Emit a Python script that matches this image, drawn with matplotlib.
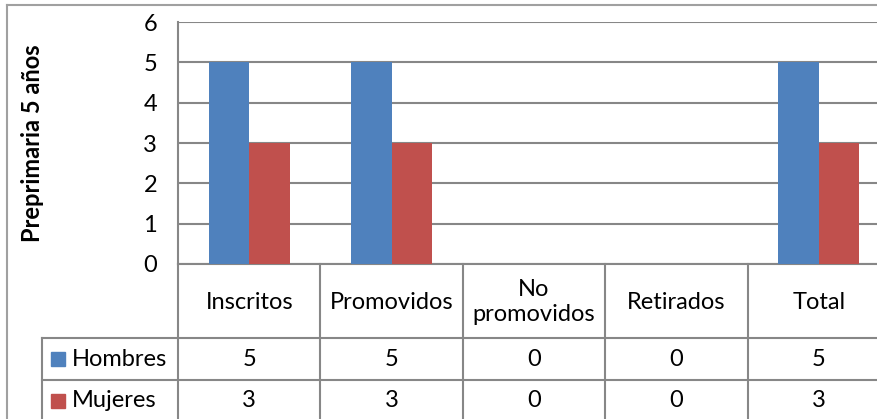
import matplotlib
matplotlib.use("Agg")
import matplotlib.pyplot as plt
from matplotlib.lines import Line2D
from matplotlib.patches import Rectangle

plt.rcParams['font.family'] = ['Lato', 'DejaVu Sans']

categories = ["Inscritos", "Promovidos", "No\npromovidos", "Retirados", "Total"]
series_names = ["Hombres", "Mujeres"]
hombres = [5, 5, 0, 0, 5]
mujeres = [3, 3, 0, 0, 3]
yticks = [0, 1, 2, 3, 4, 5, 6]
ylabel = "Preprimaria 5 años"
colors = ["#4F81BD", "#C0504D"]
grid_c = "#878787"
border_c = "#A0A0A0"
FS = 17

W, H = 878, 419
fig = plt.figure(figsize=(W / 100, H / 100), dpi=100)

# pixel overlay axes (x right, y down)
ov = fig.add_axes([0, 0, 1, 1])
ov.set_xlim(0, W)
ov.set_ylim(H, 0)
ov.axis('off')

px_left, px_right, px_top, px_bottom = 178, 890, 22, 264
ax = fig.add_axes([px_left / W, (H - px_bottom) / H,
                   (px_right - px_left) / W, (px_bottom - px_top) / H])
ax.set_zorder(2)
ax.patch.set_alpha(0)

n = len(categories)
bw = 1 / 3.5
xs = list(range(n))
ax.bar([x - bw / 2 for x in xs], hombres, width=bw, color=colors[0], zorder=3)
ax.bar([x + bw / 2 for x in xs], mujeres, width=bw, color=colors[1], zorder=3)
ax.set_xlim(-0.5, n - 0.5)
ax.set_ylim(0, 6)
ax.set_yticks(yticks)
ax.set_yticklabels([str(v) for v in yticks], fontsize=FS)
ax.set_xticks([])
ax.tick_params(axis='y', length=0, pad=15)
ax.yaxis.grid(True, color=grid_c, linewidth=1.5, zorder=0)
for s in ['top', 'right']:
    ax.spines[s].set_visible(False)
ax.spines['left'].set_color(grid_c)
ax.spines['left'].set_linewidth(1.5)
ax.spines['bottom'].set_color(grid_c)
ax.spines['bottom'].set_linewidth(1.5)
ax.set_axisbelow(True)

# y label
ov.text(33, 143, ylabel, rotation=90, ha='center', va='center',
        fontsize=17, fontweight='bold', color='black')

# outer border
ov.add_line(Line2D([7, 7], [5, H], color=border_c, lw=1.5))
ov.add_line(Line2D([7, W], [5, 5], color=border_c, lw=1.5))

# data table
to_px = lambda xd: ov.transData.inverted().transform(ax.transData.transform((xd, 0)))[0]
col_edges = [to_px(i - 0.5) for i in range(n + 1)]
row_y = [264, 338, 380, 421]
tab_left = 42
for i, xe in enumerate(col_edges[:-1]):
    ov.add_line(Line2D([xe, xe], [row_y[0], H], color=grid_c, lw=1.5))
ov.add_line(Line2D([tab_left, tab_left], [row_y[1], H], color=grid_c, lw=1.5))
for yy in row_y[1:3]:
    ov.add_line(Line2D([tab_left, W], [yy, yy], color=grid_c, lw=1.5))

for i, cat in enumerate(categories):
    cx = to_px(i)
    ov.text(cx, (row_y[0] + row_y[1]) / 2 + 1, cat, ha='center', va='center',
            fontsize=FS, linespacing=1.25)
    for r, vals in enumerate([hombres, mujeres]):
        ov.text(cx, (row_y[r + 1] + row_y[r + 2]) / 2, str(vals[i]),
                ha='center', va='center', fontsize=FS)

for r, name in enumerate(series_names):
    cy = (row_y[r + 1] + row_y[r + 2]) / 2
    ov.add_patch(Rectangle((51, cy - 7), 14, 14, color=colors[r]))
    ov.text(72, cy, name, ha='left', va='center', fontsize=FS)

fig.savefig("out.png", dpi=100)
